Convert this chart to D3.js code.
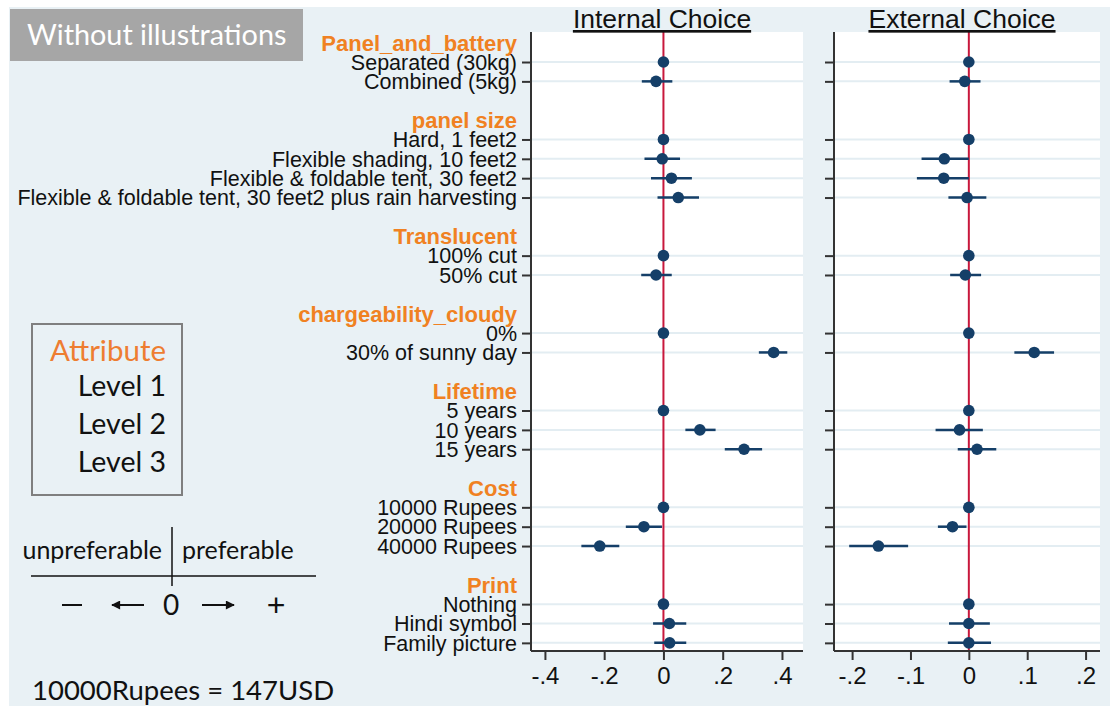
<!DOCTYPE html>
<html>
<head>
<meta charset="utf-8">
<script src="https://cdn.jsdelivr.net/npm/d3@7"></script>
<style>
  html, body { margin: 0; padding: 0; background: #ffffff; }
  svg { display: block; }
</style>
</head>
<body>
<svg id="chart" width="1113" height="706"></svg>
<script>
// Attribute groups and their levels (first level of each group is the reference level)
const attributes = ["Panel_and_battery", "panel size", "Translucent", "chargeability_cloudy", "Lifetime", "Cost", "Print"];
const levels = [
  ["Separated (30kg)", "Combined (5kg)"],
  ["Hard, 1 feet2", "Flexible shading, 10 feet2", "Flexible & foldable tent, 30 feet2", "Flexible & foldable tent, 30 feet2 plus rain harvesting"],
  ["100% cut", "50% cut"],
  ["0%", "30% of sunny day"],
  ["5 years", "10 years", "15 years"],
  ["10000 Rupees", "20000 Rupees", "40000 Rupees"],
  ["Nothing", "Hindi symbol", "Family picture"]
];

// Internal choice: point estimates and 95% interval bounds, in level order
const internalEst = [0, -0.025, 0, -0.004, 0.027, 0.05, 0, -0.025, 0, 0.372, 0, 0.123, 0.272, 0, -0.066, -0.215, 0, 0.02, 0.021];
const internalLo  = [0, -0.073, 0, -0.064, -0.042, -0.02, 0, -0.075, 0, 0.322, 0, 0.074, 0.207, 0, -0.127, -0.277, 0, -0.035, -0.031];
const internalHi  = [0, 0.03, 0, 0.056, 0.096, 0.12, 0, 0.028, 0, 0.418, 0, 0.176, 0.333, 0, -0.005, -0.149, 0, 0.077, 0.077];

// External choice
const externalEst = [0, -0.007, 0, -0.042, -0.043, -0.003, 0, -0.006, 0, 0.112, 0, -0.016, 0.014, 0, -0.028, -0.155, 0, 0, 0];
const externalLo  = [0, -0.033, 0, -0.081, -0.089, -0.035, 0, -0.032, 0, 0.078, 0, -0.057, -0.019, 0, -0.053, -0.205, 0, -0.034, -0.036];
const externalHi  = [0, 0.020, 0, 0, 0, 0.030, 0, 0.021, 0, 0.146, 0, 0.024, 0.047, 0, -0.004, -0.104, 0, 0.036, 0.038];

const internalTicks = [-0.4, -0.2, 0, 0.2, 0.4];
const externalTicks = [-0.2, -0.1, 0, 0.1, 0.2];
const panelTitles = ["Internal Choice", "External Choice"];

const legendLevels = ["Level 1", "Level 2", "Level 3"];

// Build row layout: header row, level rows, blank spacer row between groups
const rows = [];
let r = 0;
let li = 0;
attributes.forEach((a, gi) => {
  rows.push({ type: "header", text: a, row: r++ });
  levels[gi].forEach(l => { rows.push({ type: "level", text: l, row: r++, idx: li++ }); });
  r++;
});
const levelRows = rows.filter(d => d.type === "level");

const svg = d3.select("#chart");
const W = 1113, H = 706;

const BG = "#e9f1f5";
const GRID = "#e3edf2";
const NAVY = "#153f68";
const RED = "#c8183c";
const ORANGE = "#f08122";
const AXIS = "#333333";
const SANS = "Liberation Sans, Arial, sans-serif";
const HUMANIST = "Lato, sans-serif";

// page background
svg.append("rect").attr("x", 0).attr("y", 0).attr("width", W).attr("height", H).attr("fill", "#ffffff");
svg.append("rect").attr("x", 9).attr("y", 7).attr("width", W - 12).attr("height", H - 7).attr("fill", BG);

const plotTop = 32, plotBottom = 651;
const y = d3.scaleLinear().domain([-0.55, 31.42]).range([plotTop, plotBottom]);

const panels = [
  { title: panelTitles[0], left: 531, right: 803, domain: [-0.447, 0.471], ticks: internalTicks,
    est: internalEst, lo: internalLo, hi: internalHi, labels: true },
  { title: panelTitles[1], left: 834, right: 1100, domain: [-0.231, 0.2247], ticks: externalTicks,
    est: externalEst, lo: externalLo, hi: externalHi, labels: false }
];

// Stata-style tick labels: "-.4", "0", ".2"
const fmt = v => v === 0 ? "0" : (v < 0 ? "-" : "") + String(Math.abs(v)).replace(/^0\./, ".");

panels.forEach(p => {
  const x = d3.scaleLinear().domain(p.domain).range([p.left, p.right]);
  const g = svg.append("g");

  // white plot region
  g.append("rect").attr("x", p.left).attr("y", plotTop)
    .attr("width", p.right - p.left).attr("height", plotBottom - plotTop).attr("fill", "#ffffff");

  // horizontal grid lines at each level
  g.selectAll("line.grid").data(levelRows).join("line")
    .attr("class", "grid")
    .attr("x1", p.left).attr("x2", p.right)
    .attr("y1", d => y(d.row)).attr("y2", d => y(d.row))
    .attr("stroke", GRID).attr("stroke-width", 2);

  // zero reference line
  g.append("line")
    .attr("x1", x(0)).attr("x2", x(0)).attr("y1", plotTop).attr("y2", plotBottom)
    .attr("stroke", RED).attr("stroke-width", 2);

  // confidence intervals
  g.selectAll("line.ci").data(levelRows).join("line")
    .attr("class", "ci")
    .attr("x1", d => x(p.lo[d.idx])).attr("x2", d => x(p.hi[d.idx]))
    .attr("y1", d => y(d.row)).attr("y2", d => y(d.row))
    .attr("stroke", NAVY).attr("stroke-width", 2.5);

  // point estimates
  g.selectAll("circle.pt").data(levelRows).join("circle")
    .attr("class", "pt")
    .attr("cx", d => x(p.est[d.idx])).attr("cy", d => y(d.row))
    .attr("r", 5.8).attr("fill", NAVY);

  // x axis
  const xAxis = d3.axisBottom(x).tickValues(p.ticks).tickSize(9).tickPadding(7).tickFormat(fmt);
  const xa = g.append("g").attr("transform", `translate(0,${plotBottom})`).call(xAxis);
  xa.select(".domain").attr("d", `M${p.left},0H${p.right}`).attr("stroke", AXIS).attr("stroke-width", 2);
  xa.selectAll(".tick line").attr("stroke", AXIS).attr("stroke-width", 2);
  xa.selectAll(".tick text").attr("fill", "#111").style("font-family", SANS)
    .style("font-size", "24px");

  // y axis
  const yAxis = d3.axisLeft(y).tickValues(levelRows.map(d => d.row)).tickSize(9).tickFormat("");
  const ya = g.append("g").attr("transform", `translate(${p.left},0)`).call(yAxis);
  ya.select(".domain").attr("d", `M0,${plotTop}V${plotBottom}`).attr("stroke", AXIS).attr("stroke-width", 2);
  ya.selectAll(".tick line").attr("stroke", AXIS).attr("stroke-width", 2);

  // panel title
  g.append("text")
    .attr("x", (p.left + p.right) / 2 - 5).attr("y", 28)
    .attr("text-anchor", "middle")
    .style("font-family", SANS).style("font-size", "26.5px")
    .style("text-decoration", "underline")
    .attr("fill", "#111").text(p.title);

  if (p.labels) {
    const lab = svg.append("g").style("font-family", SANS);
    lab.selectAll("text").data(rows).join("text")
      .attr("x", 517).attr("y", d => y(d.row)).attr("dy", "0.36em")
      .attr("text-anchor", "end")
      .style("font-size", d => d.type === "header" ? "22px" : "21.5px")
      .style("font-weight", d => d.type === "header" ? "bold" : "normal")
      .attr("fill", d => d.type === "header" ? ORANGE : "#111")
      .text(d => d.text);
  }
});

// "Without illustrations" tag
svg.append("rect").attr("x", 10).attr("y", 9).attr("width", 293).attr("height", 52).attr("fill", "#a6a6a6");
svg.append("text").attr("x", 27).attr("y", 45)
  .style("font-family", HUMANIST).style("font-size", "28.8px")
  .attr("fill", "#ffffff").text("Without illustrations");

// Attribute / level key
const key = svg.append("g").style("font-family", HUMANIST);
key.append("rect").attr("x", 32).attr("y", 324).attr("width", 150).attr("height", 171)
  .attr("fill", "none").attr("stroke", "#7f7f7f").attr("stroke-width", 2);
key.append("text").attr("x", 166).attr("y", 361).attr("text-anchor", "end")
  .style("font-size", "29.5px").attr("fill", "#ee7d31").text("Attribute");
key.selectAll("text.lv").data(legendLevels).join("text")
  .attr("class", "lv")
  .attr("x", 166).attr("y", (d, i) => 396 + i * 38).attr("text-anchor", "end")
  .style("font-size", "28.5px").attr("fill", "#111").text(d => d);

// preference direction guide
const guide = svg.append("g").style("font-family", HUMANIST);
guide.append("line").attr("x1", 31).attr("x2", 316).attr("y1", 576).attr("y2", 576)
  .attr("stroke", "#111").attr("stroke-width", 1.5);
guide.append("line").attr("x1", 172).attr("x2", 172).attr("y1", 527).attr("y2", 586)
  .attr("stroke", "#111").attr("stroke-width", 1.5);
guide.append("text").attr("x", 162).attr("y", 559).attr("text-anchor", "end")
  .attr("fill", "#111").style("font-size", "25px").text("unpreferable");
guide.append("text").attr("x", 182).attr("y", 559)
  .attr("fill", "#111").style("font-size", "25px").text("preferable");
guide.append("line").attr("x1", 62).attr("x2", 82).attr("y1", 605).attr("y2", 605)
  .attr("stroke", "#111").attr("stroke-width", 2);
guide.append("text").attr("x", 171).attr("y", 615).attr("text-anchor", "middle")
  .attr("fill", "#111").style("font-size", "28px").text("0");
guide.append("text").attr("x", 276).attr("y", 616).attr("text-anchor", "middle")
  .attr("fill", "#111").style("font-family", SANS).style("font-size", "32px").text("+");
// arrows
svg.append("defs").append("marker").attr("id", "arrowhead")
  .attr("viewBox", "0 0 10 10").attr("refX", 9).attr("refY", 5)
  .attr("markerWidth", 5).attr("markerHeight", 4.5).attr("orient", "auto-start-reverse")
  .append("path").attr("d", "M0,0L10,5L0,10z").attr("fill", "#111");
guide.append("line").attr("x1", 144).attr("x2", 112).attr("y1", 605).attr("y2", 605)
  .attr("stroke", "#111").attr("stroke-width", 2).attr("marker-end", "url(#arrowhead)");
guide.append("line").attr("x1", 202).attr("x2", 234).attr("y1", 605).attr("y2", 605)
  .attr("stroke", "#111").attr("stroke-width", 2).attr("marker-end", "url(#arrowhead)");

svg.append("text").attr("x", 32).attr("y", 700)
  .style("font-family", HUMANIST).style("font-size", "27.5px")
  .attr("fill", "#111").text("10000Rupees = 147USD");
</script>
</body>
</html>
